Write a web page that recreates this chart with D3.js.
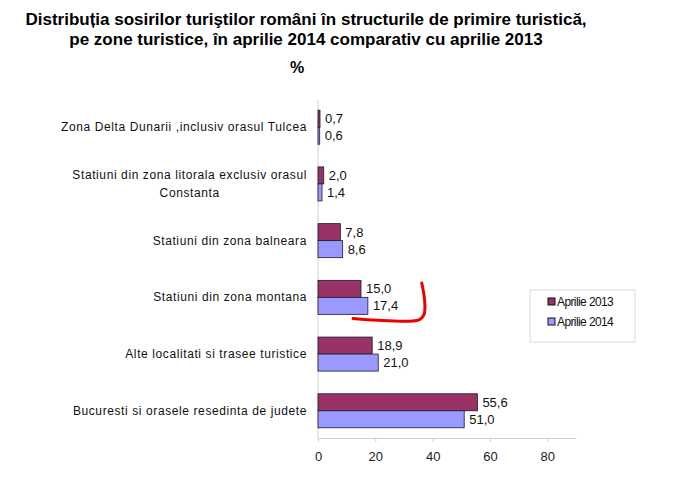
<!DOCTYPE html>
<html>
<head>
<meta charset="utf-8">
<script src="https://cdn.jsdelivr.net/npm/d3@7"></script>
<style>
  body { margin: 0; background: #fff; }
  svg { font-family: "Liberation Sans", Arial, sans-serif; }
</style>
</head>
<body>
<div id="chart"></div>
<script>
// data
const categories = [
  "Zona Delta Dunarii ,inclusiv orasul Tulcea",
  "Statiuni din zona litorala exclusiv orasul|Constanta",
  "Statiuni din zona balneara",
  "Statiuni din zona montana",
  "Alte localitati si trasee turistice",
  "Bucuresti si orasele resedinta de judete"
];
const apr2013 = [0.7, 2.0, 7.8, 15.0, 18.9, 55.6];
const apr2014 = [0.6, 1.4, 8.6, 17.4, 21.0, 51.0];
const seriesNames = ["Aprilie 2013", "Aprilie 2014"];
const xTicks = [0, 20, 40, 60, 80];

// hand drawn red mark around montana, [value, fraction of band]
const redMark = [[36.2, 0.08], [37.2, 0.6], [37.0, 1.0], [35.2, 1.16], [12.2, 1.12]];

const W = 699, H = 489;
const colors = ["#993366", "#9999ff"];

const svg = d3.select("#chart").append("svg")
    .attr("width", W)
    .attr("height", H);

// title
svg.append("text")
    .attr("x", 306).attr("y", 25)
    .attr("text-anchor", "middle")
    .style("font-size", "17px").style("font-weight", "bold")
    .text("Distribuția sosirilor turiştilor români în structurile de primire turistică,");
svg.append("text")
    .attr("x", 306).attr("y", 45)
    .attr("text-anchor", "middle")
    .style("font-size", "17px").style("font-weight", "bold")
    .text("pe zone turistice, în aprilie 2014 comparativ cu aprilie 2013");
svg.append("text")
    .attr("x", 297).attr("y", 73)
    .attr("text-anchor", "middle")
    .style("font-size", "16px").style("font-weight", "bold")
    .text("%");

const xScale = d3.scaleLinear()
    .domain([0, 90])
    .range([318, 576]);

const yScale = d3.scaleBand()
    .domain(categories)
    .range([100, 438])
    .paddingInner(0.4)
    .paddingOuter(0.18);

const bw = yScale.bandwidth() / 2;
const fmt = v => d3.format(".1f")(v).replace(".", ",");

// x axis
const xAxis = svg.append("g")
    .attr("transform", "translate(0,438)")
    .call(d3.axisBottom(xScale).tickValues(xTicks).tickSize(4).tickPadding(10).tickSizeOuter(0));
xAxis.select(".domain").attr("stroke", "#d0d0d0");
xAxis.selectAll(".tick line").attr("stroke", "#d0d0d0");
xAxis.selectAll(".tick text")
    .style("font-size", "13px")
    .style("font-family", "Liberation Sans, Arial, sans-serif")
    .attr("fill", "#222");

// y axis line
svg.append("line")
    .attr("x1", xScale(0)).attr("x2", xScale(0))
    .attr("y1", 100).attr("y2", 438)
    .attr("stroke", "#d0d0d0");

// category labels
const catLabels = svg.append("g");
categories.forEach(c => {
    const lines = c.split("|");
    const cy = yScale(c) + yScale.bandwidth() / 2;
    const t = catLabels.append("text")
        .style("font-size", "12px")
        .style("letter-spacing", "0.6px")
        .attr("text-anchor", "end")
        .attr("fill", "#111");
    if (lines.length === 1) {
        t.attr("x", 307).attr("y", cy + 4).text(c);
    } else {
        t.attr("x", 307).attr("y", cy - 5).text(lines[0]);
        const w = t.node().getComputedTextLength();
        catLabels.append("text")
            .style("font-size", "12px")
            .style("letter-spacing", "0.6px")
            .attr("text-anchor", "middle")
            .attr("fill", "#111")
            .attr("x", 307 - w / 2).attr("y", cy + 13)
            .text(lines[1]);
    }
});

// bars
[apr2013, apr2014].forEach((vals, s) => {
    svg.append("g").selectAll("rect")
        .data(vals)
        .join("rect")
        .attr("x", xScale(0))
        .attr("y", (d, i) => yScale(categories[i]) + s * bw)
        .attr("width", d => xScale(d) - xScale(0))
        .attr("height", bw)
        .attr("fill", colors[s])
        .attr("stroke", "#1a1a2a")
        .attr("stroke-width", 0.8);

    svg.append("g").selectAll("text")
        .data(vals)
        .join("text")
        .attr("x", d => xScale(d) + 5)
        .attr("y", (d, i) => yScale(categories[i]) + s * bw + bw / 2 + 4.5)
        .style("font-size", "13px")
        .attr("fill", "#111")
        .text(d => fmt(d));
});

// red mark
const m = yScale("Statiuni din zona montana");
svg.append("path")
    .datum(redMark)
    .attr("fill", "none")
    .attr("stroke", "#ee0000")
    .attr("stroke-width", 3)
    .attr("stroke-linecap", "round")
    .attr("d", d3.line()
        .x(d => xScale(d[0]))
        .y(d => m + d[1] * yScale.bandwidth())
        .curve(d3.curveCatmullRom));

// legend
const legend = svg.append("g").attr("transform", "translate(530,290)");
legend.append("rect")
    .attr("width", 105).attr("height", 52)
    .attr("fill", "#fff")
    .attr("stroke", "#dcdcdc");
seriesNames.forEach((n, i) => {
    legend.append("rect")
        .attr("x", 18).attr("y", 8 + i * 20)
        .attr("width", 7).attr("height", 7)
        .attr("fill", colors[i])
        .attr("stroke", "#111");
    legend.append("text")
        .attr("x", 27).attr("y", 16 + i * 20)
        .style("font-size", "12px")
        .style("letter-spacing", "-0.6px")
        .attr("fill", "#111")
        .text(n);
});
</script>
</body>
</html>
